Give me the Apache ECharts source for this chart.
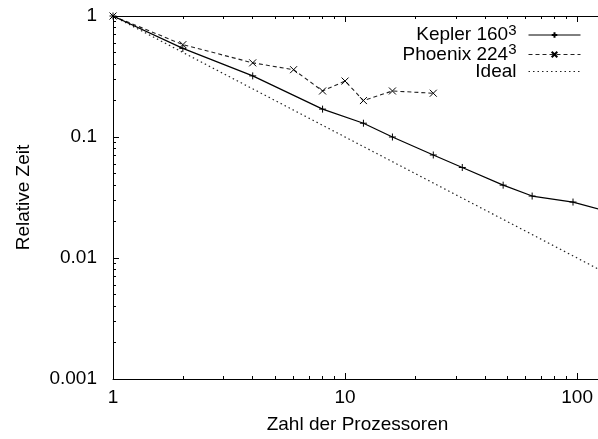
<!DOCTYPE html>
<html>
<head>
<meta charset="utf-8">
<script src="https://cdn.jsdelivr.net/npm/echarts@6/dist/echarts.min.js"></script>
<style>
  html, body { margin: 0; padding: 0; background: #fff; }
  #chart { width: 598px; height: 439px; }
</style>
</head>
<body>
<div id="chart"></div>
<script>
// Messwerte (log-log)
const keplerProz = [1, 2, 4, 8, 12, 16, 24, 32, 48, 64, 96, 128]
const keplerZeit = [1, 0.54, 0.32, 0.17, 0.13, 0.10, 0.071, 0.056, 0.040, 0.0325, 0.029, 0.025]
const phoenixProz = [1, 2, 4, 6, 8, 10, 12, 16, 24]
const phoenixZeit = [1, 0.58, 0.41, 0.36, 0.24, 0.29, 0.20, 0.24, 0.23]
const idealProz = [1, 128]
const idealZeit = [1, 0.0078125]

// Achsenbeschriftung
const xMajor = [1, 10, 100]
const xMinor = [2, 3, 4, 5, 6, 7, 8, 9, 20, 30, 40, 50, 60, 70, 80, 90]
const yMajor = [0.001, 0.01, 0.1, 1]
const yMajorLabels = ['0.001', '0.01', '0.1', '1']
const yMinor = [0.002, 0.003, 0.004, 0.005, 0.006, 0.007, 0.008, 0.009,
  0.02, 0.03, 0.04, 0.05, 0.06, 0.07, 0.08, 0.09,
  0.2, 0.3, 0.4, 0.5, 0.6, 0.7, 0.8, 0.9]

const legendNames = ['Kepler 160', 'Phoenix 224', 'Ideal']
const legendSup = ['3', '3', '']

const font = 'Liberation Sans'
const black = '#000'

const pairs = (xs, ys) => xs.map((x, i) => [x, ys[i]])

const xBase = (pos, ticks, len, opts) => Object.assign({
  type: 'log',
  position: pos,
  min: 1,
  max: 128,
  gridIndex: 0,
  axisLine: { show: false, lineStyle: { color: black, width: 1 } },
  axisTick: { show: true, inside: true, length: len, customValues: ticks, lineStyle: { color: black } },
  axisLabel: { show: false },
  splitLine: { show: false },
  minorTick: { show: false }
}, opts || {})

const yBase = (ticks, len, opts) => Object.assign({
  type: 'log',
  position: 'left',
  min: 0.001,
  max: 1,
  gridIndex: 0,
  axisLine: { show: false, lineStyle: { color: black, width: 1 } },
  axisTick: { show: true, inside: true, length: len, customValues: ticks, lineStyle: { color: black } },
  axisLabel: { show: false },
  splitLine: { show: false },
  minorTick: { show: false }
}, opts || {})

const chart = echarts.init(document.getElementById('chart'))

const plusSym = 'path://M0,5L10,5M5,0L5,10'
const crossSym = 'path://M0,0L10,10M10,0L0,10'

const option = {
  animation: false,
  textStyle: { fontFamily: font },
  grid: { left: 113, top: 16, bottom: 60, right: -4, containLabel: false, outerBoundsMode: 'none' },
  xAxis: [
    xBase('bottom', xMajor, 6, {
      name: 'Zahl der Prozessoren',
      nameLocation: 'middle',
      nameGap: 36,
      nameTextStyle: { color: black, fontSize: 19, fontFamily: font },
      axisLine: { show: true, lineStyle: { color: black, width: 1 } },
      axisLabel: {
        show: true, customValues: xMajor, color: black, fontSize: 19, fontFamily: font, margin: 9,
        formatter: v => String(v)
      }
    }),
    xBase('bottom', xMinor, 3),
    xBase('top', xMajor, 6, { axisLine: { show: true, lineStyle: { color: black, width: 1 } } }),
    xBase('top', xMinor, 3)
  ],
  yAxis: [
    yBase(yMajor, 6, {
      name: 'Relative Zeit',
      nameLocation: 'middle',
      nameGap: 80,
      nameTextStyle: { color: black, fontSize: 19, fontFamily: font },
      axisLine: { show: true, lineStyle: { color: black, width: 1 } },
      axisLabel: {
        show: true, customValues: yMajor, color: black, fontSize: 19, fontFamily: font, margin: 16,
        formatter: v => yMajorLabels[yMajor.findIndex(t => Math.abs(Math.log10(t) - Math.log10(v)) < 1e-6)]
      }
    }),
    yBase(yMinor, 3)
  ],
  legend: legendNames.map((name, i) => ({
    data: [name],
    selectedMode: false,
    orient: 'horizontal',
    align: 'right',
    right: 17,
    top: 23 + i * 19.5,
    padding: 0,
    itemWidth: 52,
    itemHeight: 7,
    lineStyle: { width: 1 },
    formatter: n => legendSup[i] ? n + '{sup|' + legendSup[i] + '}' : n,
    textStyle: {
      color: black, fontSize: 19, fontFamily: font, padding: [0, 7, 0, 0],
      rich: { sup: { fontSize: 15, fontFamily: font, color: black, verticalAlign: 'top', padding: [0, 0, 9, 0] } }
    }
  })),
  series: [
    {
      name: 'Kepler 160',
      type: 'line',
      data: pairs(keplerProz, keplerZeit),
      symbol: plusSym,
      symbolSize: 7,
      itemStyle: { color: 'transparent', borderColor: black, borderWidth: 1 },
      lineStyle: { color: black, width: 1.2, type: 'solid' },
      z: 3
    },
    {
      name: 'Phoenix 224',
      type: 'line',
      data: pairs(phoenixProz, phoenixZeit),
      symbol: crossSym,
      symbolSize: 7,
      itemStyle: { color: 'transparent', borderColor: black, borderWidth: 1 },
      lineStyle: { color: '#222', width: 1.1, type: [4, 3] },
      z: 2
    },
    {
      name: 'Ideal',
      type: 'line',
      data: pairs(idealProz, idealZeit),
      symbol: 'none',
      itemStyle: { color: 'transparent', borderColor: 'transparent' },
      lineStyle: { color: '#222', width: 1.2, type: [1.5, 3] },
      z: 1
    }
  ]
}

chart.setOption(option)
</script>
</body>
</html>
